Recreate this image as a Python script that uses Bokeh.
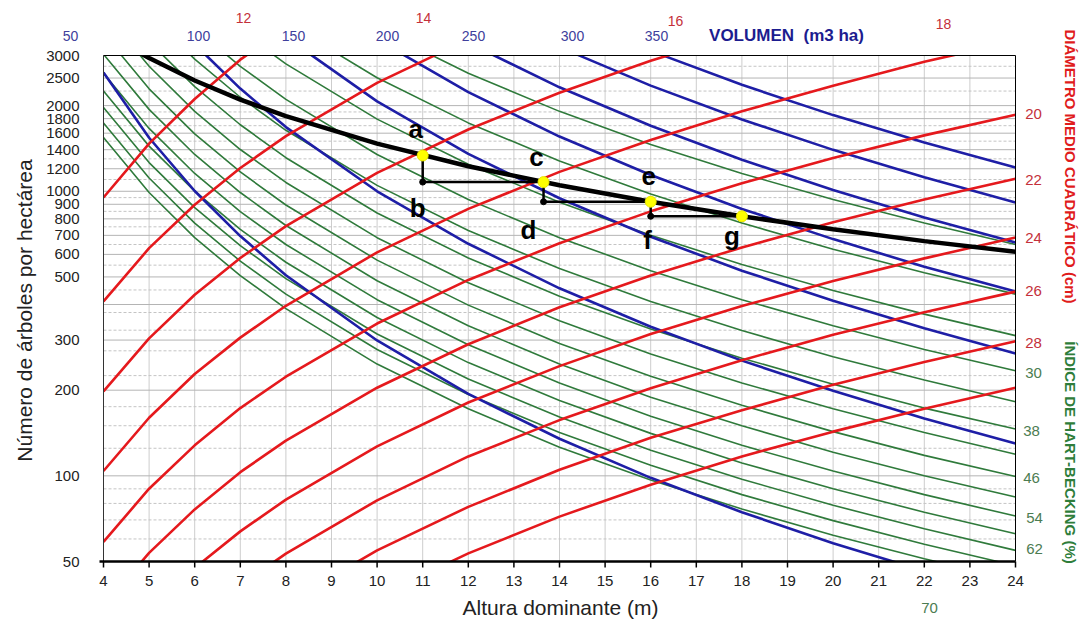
import math

from bokeh.core.properties import value
from bokeh.embed import file_html
from bokeh.models import Range1d
from bokeh.plotting import figure
from bokeh.resources import INLINE

# ---------------------------------------------------------------- data
x_ticks = list(range(4, 25))
y_ticks = [50, 100, 200, 300, 500, 600, 700, 800, 900, 1000, 1200, 1400,
           1600, 1800, 2000, 2500, 3000]
y_grid_major = [100, 200, 300, 400, 500, 600, 700, 800, 900, 1000, 1200,
                1400, 1600, 1800, 2000, 2500]
y_grid_minor = [60, 70, 80, 90, 125, 150, 175, 225, 275, 325, 375, 450, 550,
                650, 750, 850, 950, 1100, 1300, 1500, 1700, 1900, 2250, 2750]

# Quadratic mean diameter isolines (cm): dominant height (m) -> trees/ha
diam_cm = [12, 14, 16, 18, 20, 22, 24, 26, 28, 30]
diam_h = [
    [4, 5, 6, 7, 8],
    [4, 5, 6, 7, 8, 10, 12],
    [4, 5, 6, 7, 8, 10, 12, 14, 16, 18],
    [4, 5, 6, 7, 8, 10, 12, 14, 16, 18, 20, 22, 24],
    [4, 5, 6, 7, 8, 10, 12, 14, 16, 18, 20, 22, 24],
    [4, 5, 6, 7, 8, 10, 12, 14, 16, 18, 20, 22, 24],
    [5, 6, 7, 8, 10, 12, 14, 16, 18, 20, 22, 24],
    [6, 7, 8, 10, 12, 14, 16, 18, 20, 22, 24],
    [8, 10, 12, 14, 16, 18, 20, 22, 24],
    [10, 12, 14, 16, 18, 20, 22, 24],
]
diam_n = [
    [951, 1470, 2110, 2900, 3750],
    [410, 631, 897, 1207, 1562, 2403, 3416],
    [198, 304, 433, 583, 754, 1160, 1649, 2220, 2873, 3606],
    [104, 160, 228, 306, 396, 610, 867, 1170, 1515, 1910, 2350, 2850, 3370],
    [58.6, 90.1, 128, 173, 223, 343, 488, 657, 850, 1067, 1308, 1572, 1859],
    [34.8, 53.6, 76.2, 103, 133, 204, 290, 391, 506, 635, 778, 935, 1106],
    [33.3, 47.4, 63.8, 82.5, 127, 181, 243, 315, 395, 484, 581, 688],
    [30.6, 41.2, 53.3, 82.0, 117, 157, 203, 255, 313, 376, 444],
    [35.6, 54.7, 77.8, 105, 136, 170, 209, 251, 297],
    [37.6, 53.4, 71.9, 93.1, 117, 143, 172, 204],
]

# Stand volume isolines (m3/ha)
vol_m3 = [50, 100, 150, 200, 250, 300, 350]
vol_h = [
    [4, 5, 6, 7, 8, 10, 12, 14, 16, 18, 20, 22],
    [6, 7, 8, 10, 12, 14, 16, 18, 20, 22, 24],
    [8, 10, 12, 14, 16, 18, 20, 22, 24],
    [10, 12, 14, 16, 18, 20, 22, 24],
    [12, 14, 16, 18, 20, 22, 24],
    [14, 16, 18, 20, 22, 24],
    [16, 18, 20, 22, 24],
]
vol_n = [
    [2615, 1542, 1002, 696, 507, 299, 194, 135, 98.4, 74.5, 58.0, 46.3],
    [3287, 2295, 1681, 1000, 654, 456, 334, 254, 199, 159, 130],
    [3481, 2070, 1353, 945, 692, 526, 412, 330, 269],
    [3411, 2230, 1557, 1141, 867, 679, 543, 444],
    [3321, 2319, 1699, 1291, 1010, 809, 661],
    [3209, 2351, 1787, 1398, 1120, 914],
    [3114, 2366, 1852, 1483, 1211],
]

# Hart-Becking spacing index isolines (%)
hb_pct = [18, 22, 26, 30, 34, 38, 42, 46, 50, 54, 58, 62, 66, 70]
hb_h = [
    [10, 12, 14, 16, 18, 20, 22, 24],
    [8, 10, 12, 14, 16, 18, 20, 22, 24],
    [7, 8, 10, 12, 14, 16, 18, 20, 22, 24],
    [6, 7, 8, 10, 12, 14, 16, 18, 20, 22, 24],
    [5, 6, 7, 8, 10, 12, 14, 16, 18, 20, 22, 24],
    [5, 6, 7, 8, 10, 12, 14, 16, 18, 20, 22, 24],
] + [[4, 5, 6, 7, 8, 10, 12, 14, 16, 18, 20, 22, 24]] * 8
hb_n = [
    [3741, 2598, 1909, 1461, 1155, 935, 773, 650],
    [3913, 2505, 1739, 1278, 978, 773, 626, 517, 435],
    [3660, 2802, 1793, 1245, 915, 700, 553, 448, 370, 311],
    [3741, 2749, 2104, 1347, 935, 687, 526, 416, 337, 278, 234],
    [4194, 2913, 2140, 1638, 1049, 728, 535, 410, 324, 262, 217, 182],
    [3358, 2332, 1713, 1312, 839, 583, 428, 328, 259, 210, 173, 146],
    [4295, 2749, 1909, 1402, 1074, 687, 477, 351, 268, 212, 172, 142, 119],
    [3580, 2291, 1591, 1169, 895, 573, 398, 292, 224, 177, 143, 118, 99.5],
    [3030, 1940, 1347, 990, 758, 485, 337, 247, 189, 150, 121, 100, 84.2],
    [2598, 1663, 1155, 848, 650, 416, 289, 212, 162, 128, 104, 85.9, 72.2],
    [2252, 1441, 1001, 735, 563, 360, 250, 184, 141, 111, 90.1, 74.5, 62.6],
    [1971, 1261, 876, 644, 493, 315, 219, 161, 123, 97.3, 78.8, 65.2, 54.7],
    [1739, 1113, 773, 568, 435, 278, 193, 142, 109, 85.9, 69.6, 57.5, 48.3],
    [1546, 990, 687, 505, 387, 247, 172, 126, 96.6, 76.4, 61.8, 51.1, 42.9],
]

# Upper density limit (thick black curve)
limit_h = [4.8, 5, 6, 7, 8, 10, 12, 14, 16, 18, 20, 22, 24]
limit_n = [3063, 2940, 2450, 2100, 1838, 1470, 1225, 1050, 919, 817, 735, 668, 613]

# Thinning schedule: a -> b (thinning), b -> c (growth), ...
stand_labels = ["a", "b", "c", "d", "e", "f", "g"]
stand_h = [11, 11, 13.65, 13.65, 16, 16, 18]
stand_n = [1336, 1077, 1077, 919, 919, 817, 817]

# Scale labels drawn around the diagram
diam_labels = [12, 14, 16, 18, 20, 22, 24, 26, 28]
hb_labels = [30, 38, 46, 54, 62, 70]

# ---------------------------------------------------------------- layout
# The plot frame fills the whole canvas; the diagram box sits inside it and
# everything around the box (axes, scales, titles) is drawn as glyphs.
W, HGT = 1082, 620
BOX_L, BOX_R, BOX_T, BOX_B = 103, 1015, 55, 561
H_MIN, H_MAX, N_MIN, N_MAX = 4, 24, 50, 3000
PX_PER_M = (BOX_R - BOX_L) / (H_MAX - H_MIN)
PX_PER_DEC = (BOX_B - BOX_T) / math.log10(N_MAX / N_MIN)


def h_at(px):
    return H_MIN + (px - BOX_L) / PX_PER_M


def n_at(py):
    return N_MIN * 10 ** ((BOX_B - py) / PX_PER_DEC)


X_LO, X_HI = h_at(0), h_at(W)
Y_LO, Y_HI = n_at(HGT), n_at(0)

FONT = "Liberation Sans"
RED = "#e5191d"
BLUE = "#1e1ea6"
GREEN = "#2f7a3b"

p = figure(width=W, height=HGT,
           x_range=Range1d(X_LO, X_HI), y_range=Range1d(Y_LO, Y_HI),
           y_axis_type="log", x_axis_location=None, y_axis_location=None,
           output_backend="svg", toolbar_location=None, min_border=0)
p.background_fill_color = "white"
p.border_fill_color = "white"
p.outline_line_color = None
p.grid.visible = False

# grid inside the box
nx, nmaj, nmin = len(x_ticks), len(y_grid_major), len(y_grid_minor)
p.segment(x0=x_ticks, y0=[N_MIN] * nx, x1=x_ticks, y1=[N_MAX] * nx,
          line_color="#cdcdcd", line_width=1)
p.segment(x0=[H_MIN] * nmin, y0=y_grid_minor, x1=[H_MAX] * nmin,
          y1=y_grid_minor, line_color="#c4c4c4", line_width=1,
          line_dash="3 2")
p.segment(x0=[H_MIN] * nmaj, y0=y_grid_major, x1=[H_MAX] * nmaj,
          y1=y_grid_major, line_color="#b4b4b4", line_width=1)

# isolines
p.multi_line(xs=hb_h, ys=hb_n, line_color=GREEN, line_width=1.6)
p.multi_line(xs=vol_h, ys=vol_n, line_color=BLUE, line_width=2.6)
p.multi_line(xs=diam_h, ys=diam_n, line_color=RED, line_width=2.6)
p.line(limit_h, limit_n, line_color="black", line_width=4.5)

# white margins hide the parts of the curves that leave the box
p.quad(left=[X_LO, H_MAX, X_LO, X_LO], right=[H_MIN, X_HI, X_HI, X_HI],
       bottom=[Y_LO, Y_LO, N_MAX, Y_LO], top=[Y_HI, Y_HI, Y_HI, N_MIN],
       fill_color="white", line_color=None)

# box outline and x axis
p.line([H_MIN, H_MIN], [N_MIN, N_MAX], line_color="#333333", line_width=1)
p.line([H_MIN, H_MAX, H_MAX], [N_MAX, N_MAX, N_MIN], line_color="black",
       line_width=1)
p.line([h_at(BOX_L - 4), H_MAX], [N_MIN, N_MIN], line_color="black",
       line_width=2.5)
p.segment(x0=x_ticks, y0=[N_MIN] * nx, x1=x_ticks,
          y1=[n_at(BOX_B + 6)] * nx, line_color="black", line_width=1.5)

# thinning schedule
p.line(stand_h, stand_n, line_color="black", line_width=2.5)
p.scatter(stand_h[1::2], stand_n[1::2], size=6, color="black")
p.scatter(stand_h[0::2], stand_n[0::2], size=11, fill_color="#ffff00",
          line_color="#e8e800", line_width=1)

letter_dx = [-7, -5, -7, -15, -2, -3, -10]
letter_dy = [-26, 26, -25, 28, -26, 24, 20]
letter_h = [h + dx / PX_PER_M for h, dx in zip(stand_h, letter_dx)]
letter_n = [n * 10 ** (-dy / PX_PER_DEC) for n, dy in zip(stand_n, letter_dy)]
p.text(x=letter_h, y=letter_n, text=stand_labels, text_font=value(FONT),
       text_font_size="26px", text_font_style="bold", text_color="black",
       text_align="center", text_baseline="middle")

# tick labels
p.text(x=x_ticks, y=[n_at(580)] * nx, text=[str(t) for t in x_ticks],
       text_font=value(FONT), text_font_size="15px", text_color="#222222",
       text_align="center", text_baseline="middle")
p.text(x=[h_at(79)] * len(y_ticks), y=y_ticks, text=[str(t) for t in y_ticks],
       text_font=value(FONT), text_font_size="15px", text_color="#222222",
       text_align="right", text_baseline="middle")


def add_text(px, py, text, color, size, bold=False, angle=0.0):
    """Write a text centred on pixel (px, py) of the canvas."""
    p.text(x=[h_at(px)], y=[n_at(py)], text=[text], text_color=color,
           text_font=value(FONT), text_font_size=f"{size}px",
           text_font_style="bold" if bold else "normal", angle=angle,
           text_align="center", text_baseline="middle")


# axis titles
add_text(560, 607, "Altura dominante (m)", "#222222", 21)
add_text(24, 310, "Número de árboles por hectárea", "#222222", 21,
         angle=math.pi / 2)

# volume scale along the top
vol_label_px = [70, 198, 293, 387, 473, 572, 656]
for v, px in zip(vol_m3, vol_label_px):
    add_text(px, 35, str(v), "#40409c", 14)
add_text(786, 35, "VOLUMEN\u00a0\u00a0(m3 ha)", "#1c1c8f", 17, bold=True)

# diameter scale (top and right)
diam_label_pos = [(243, 17), (423, 17), (675, 20), (943, 23),
                  (1033, 113), (1033, 179), (1033, 237), (1033, 290),
                  (1033, 342)]
for d, (px, py) in zip(diam_labels, diam_label_pos):
    add_text(px, py, str(d), "#c4303a", 14 if py < 40 else 15)
add_text(1070, 166, "DIÁMETRO MEDIO CUADRÁTICO (cm)", "#e01c1c", 15,
         bold=True, angle=-math.pi / 2)

# Hart-Becking scale (right and bottom)
hb_label_pos = [(1033, 372), (1031, 430), (1031, 477), (1034, 517),
                (1034, 548), (929, 607)]
for v, (px, py) in zip(hb_labels, hb_label_pos):
    add_text(px, py, str(v), "#4c7c52", 15)
add_text(1070, 452, "ÍNDICE DE HART-BECKING (%)", "#2e7d3a", 15,
         bold=True, angle=-math.pi / 2)

open("out.html", "w").write(file_html(p, INLINE))
